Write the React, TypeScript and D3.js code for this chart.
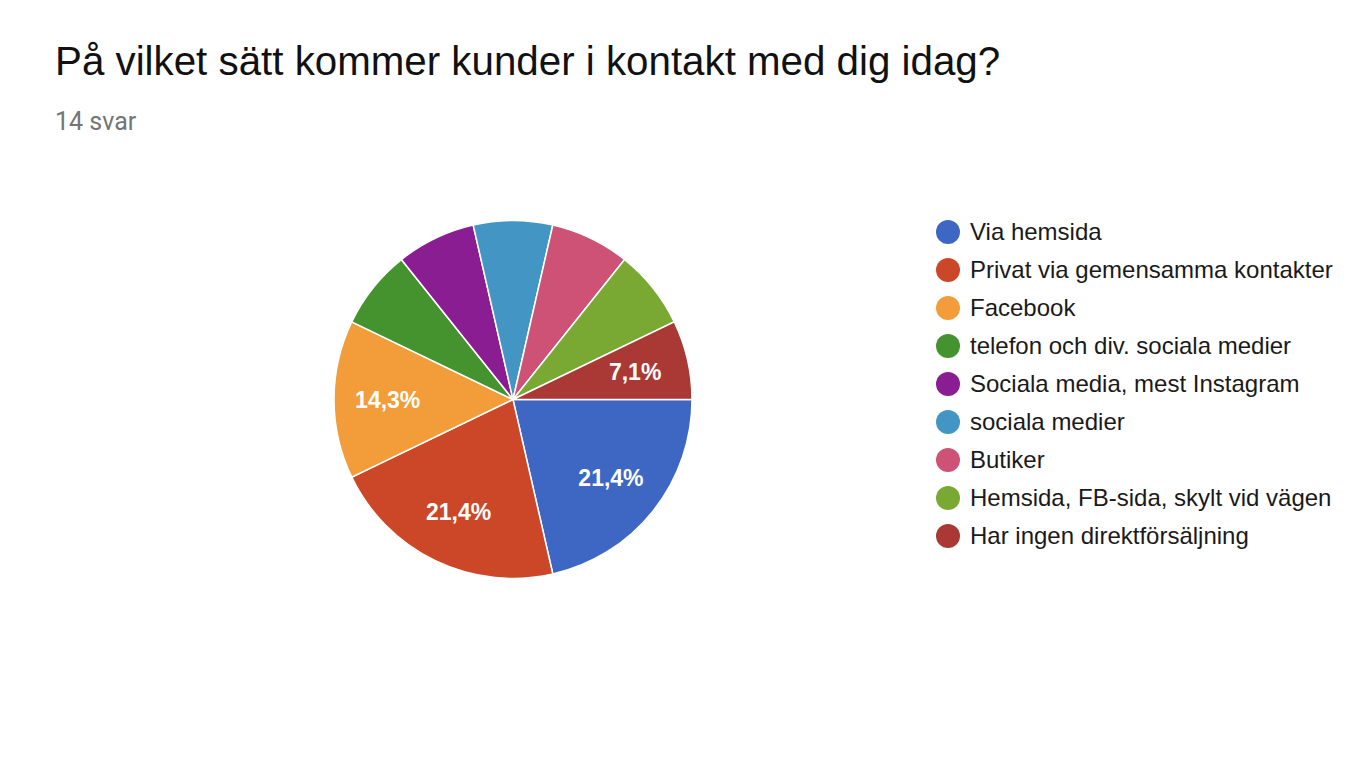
import React from "react";
import * as d3 from "d3";

const categories = [
  "Via hemsida",
  "Privat via gemensamma kontakter",
  "Facebook",
  "telefon och div. sociala medier",
  "Sociala media, mest Instagram",
  "sociala medier",
  "Butiker",
  "Hemsida, FB-sida, skylt vid vägen",
  "Har ingen direktförsäljning",
];
const counts = [3, 3, 2, 1, 1, 1, 1, 1, 1];
// only the slices where the label is drawn inside the pie
const sliceLabels = ["21,4%", "21,4%", "14,3%", "", "", "", "", "", "7,1%"];
const colors = [
  "#3e67c4",
  "#cc4727",
  "#f29d39",
  "#45932f",
  "#8b1d93",
  "#4396c3",
  "#cd5276",
  "#79a933",
  "#aa3935",
];

const title = "På vilket sätt kommer kunder i kontakt med dig idag?";
const subtitle = "14 svar";

export default function App() {
  const width = 1360;
  const height = 776;
  const cx = 513;
  const cy = 399.5;
  const r = 179;

  const pie = d3
    .pie<number>()
    .sort(null)
    .startAngle(Math.PI / 2)
    .endAngle(Math.PI / 2 + 2 * Math.PI);
  const arcs = pie(counts);
  const arc = d3.arc<d3.PieArcDatum<number>>().innerRadius(0).outerRadius(r);
  const labelArc = d3
    .arc<d3.PieArcDatum<number>>()
    .innerRadius(r * 0.7)
    .outerRadius(r * 0.7);

  const legendX = 948;
  const legendY = 232;
  const legendStep = 38;

  return (
    <svg
      width={width}
      height={height}
      style={{ position: "absolute", left: 0, top: 0, background: "#fff" }}
    >
      <text
        x={55}
        y={75}
        fontFamily="'Liberation Sans', Arial, sans-serif"
        fontSize={40.3}
        fill="#111"
      >
        {title}
      </text>
      <text x={55} y={130} fontFamily="Roboto, sans-serif" fontSize={25} fill="#757575">
        {subtitle}
      </text>

      <g transform={`translate(${cx},${cy})`}>
        {arcs.map((a, i) => (
          <path key={i} d={arc(a) || ""} fill={colors[i]} stroke="#fff" strokeWidth={1.5} />
        ))}
        {arcs.map((a, i) => {
          if (!sliceLabels[i]) return null;
          const [x, y] = labelArc.centroid(a);
          return (
            <text
              key={"l" + i}
              x={x}
              y={y + 8}
              textAnchor="middle"
              fontFamily="'Liberation Sans', Arial, sans-serif"
              fontWeight="bold"
              fontSize={23}
              fill="#fff"
            >
              {sliceLabels[i]}
            </text>
          );
        })}
      </g>

      <g fontFamily="'Liberation Sans', Arial, sans-serif" fontSize={24} fill="#1a1a1a">
        {categories.map((c, i) => (
          <g key={c} transform={`translate(${legendX},${legendY + i * legendStep})`}>
            <circle r={12} fill={colors[i]} />
            <text x={22} y={8}>
              {c}
            </text>
          </g>
        ))}
      </g>
    </svg>
  );
}
